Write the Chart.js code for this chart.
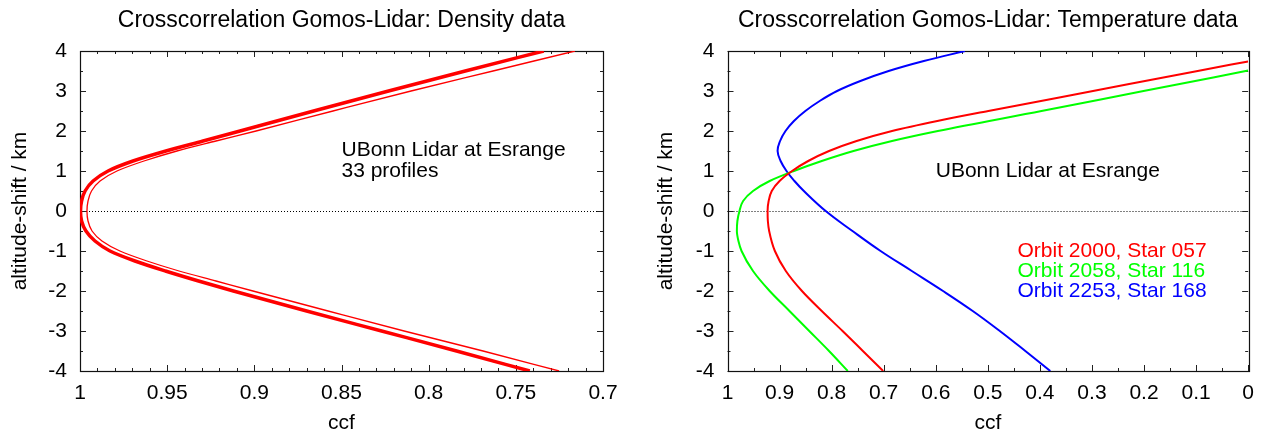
<!DOCTYPE html>
<html>
<head>
<meta charset="utf-8">
<script src="https://cdn.jsdelivr.net/npm/chart.js@4.4.0/dist/chart.umd.min.js"></script>
<style>
  html, body { margin: 0; padding: 0; background: #fff; }
  #wrap { position: relative; width: 1264px; height: 436px; }
  .pane { position: absolute; top: 0; width: 632px; height: 436px; }
</style>
</head>
<body>
<div id="wrap">
  <div class="pane" style="left:0"><canvas id="cDensity" width="632" height="436"></canvas></div>
  <div class="pane" style="left:632px"><canvas id="cTemp" width="632" height="436"></canvas></div>
</div>
<script>
// --- Dados: painel esquerdo (densidade) ---
const dzDensity    = [-4, -3.5, -3, -2.5, -2, -1.75, -1.5, -1.25, -1, -0.75, -0.5, -0.25, 0,
                      0.25, 0.5, 0.75, 1, 1.25, 1.5, 1.75, 2, 2.5, 3, 3.5, 4];
const ccfBundle    = [0.742, 0.784, 0.827, 0.870, 0.912, 0.932, 0.951, 0.9685, 0.9828, 0.9914, 0.9966, 0.9991, 0.9997,
                      0.9991, 0.9971, 0.9925, 0.9839, 0.9696, 0.9507, 0.9294, 0.9082, 0.866, 0.823, 0.779, 0.734];
const ccfOutlier   = [0.7252, 0.7688, 0.8141, 0.8577, 0.9008, 0.922, 0.9432, 0.9616, 0.9771, 0.9874, 0.9931, 0.9954, 0.996,
                      0.9954, 0.9934, 0.9885, 0.9788, 0.9633, 0.9444, 0.922, 0.899, 0.8549, 0.8101, 0.7631, 0.7161];

// --- Dados: painel direito (temperatura) ---
const dzOrbit2000  = [-4, -3.5, -3, -2.5, -2, -1.5, -1, -0.5, -0.25, 0, 0.25, 0.5, 0.75, 1, 1.25, 1.5, 1.75, 2, 2.25, 2.5, 3, 3.5, 3.74];
const ccfOrbit2000 = [0.701, 0.740, 0.779, 0.819, 0.857, 0.888, 0.909, 0.920, 0.9225, 0.923, 0.921, 0.915, 0.900, 0.876, 0.845, 0.805, 0.752, 0.684, 0.597, 0.499, 0.298, 0.097, 0.0];
const dzOrbit2058  = [-4, -3.5, -3, -2.5, -2, -1.5, -1, -0.75, -0.5, -0.25, 0, 0.25, 0.5, 0.75, 1, 1.25, 1.5, 1.75, 2, 2.5, 3, 3.51];
const ccfOrbit2058 = [0.769, 0.805, 0.843, 0.881, 0.919, 0.951, 0.973, 0.979, 0.982, 0.981, 0.977, 0.970, 0.951, 0.919, 0.8724, 0.819, 0.758, 0.684, 0.596, 0.397, 0.201, 0.0];
const dzOrbit2253  = [-4, -3.5, -3, -2.5, -2, -1.5, -1, -0.5, 0, 0.5, 0.75, 1, 1.25, 1.5, 1.75, 2, 2.25, 2.5, 2.75, 3, 3.25, 3.5, 3.75, 4];
const ccfOrbit2253 = [0.380, 0.428, 0.477, 0.529, 0.586, 0.646, 0.706, 0.760, 0.8114, 0.8533, 0.8714, 0.8867, 0.898, 0.9038, 0.899, 0.8886, 0.8724, 0.8505, 0.8229, 0.7895, 0.7448, 0.6905, 0.6229, 0.544];

// --- Eixos ---
const yTicks        = [-4, -3, -2, -1, 0, 1, 2, 3, 4];
const xTicksDensity = [1, 0.95, 0.9, 0.85, 0.8, 0.75, 0.7];
const xTicksTemp    = [1, 0.9, 0.8, 0.7, 0.6, 0.5, 0.4, 0.3, 0.2, 0.1, 0];

// --- Textos ---
const titleDensity = 'Crosscorrelation Gomos-Lidar: Density data';
const titleTemp    = 'Crosscorrelation Gomos-Lidar: Temperature data';
const notesDensity = [
  { text: 'UBonn Lidar at Esrange', x: 0.85, y: 1.52, color: '#000' },
  { text: '33 profiles',            x: 0.85, y: 1.0,  color: '#000' }
];
const notesTemp = [
  { text: 'UBonn Lidar at Esrange', x: 0.6,   y: 1.0,  color: '#000' },
  { text: 'Orbit 2000, Star 057',   x: 0.443, y: -1.0, color: '#ff0000' },
  { text: 'Orbit 2058, Star 116',   x: 0.443, y: -1.5, color: '#00ff00' },
  { text: 'Orbit 2253, Star 168',   x: 0.443, y: -2.0, color: '#0000ff' }
];

const FONT = '"Liberation Sans", Arial, Helvetica, sans-serif';
const FS = 21;       // textos gerais
const FS_TITLE = 23; // titulo do painel

function pts(xs, ys) {
  return ys.map((y, i) => ({ x: xs[i], y }));
}

function fmt(v) {
  return String(Math.round(v * 100) / 100);
}

// Moldura estilo gnuplot: borda, ticks para dentro, linha pontilhada em y=0, textos
function gnuplotPlugin(title, notes, minorStep) {
  return {
    id: 'gnuplotFrame',
    beforeDatasetsDraw(chart) {
      const { ctx, chartArea: a, scales: { x, y } } = chart;
      ctx.save();
      // linha pontilhada no zero
      ctx.strokeStyle = '#000';
      ctx.lineWidth = 1;
      ctx.setLineDash([1, 2]);
      const y0 = Math.round(y.getPixelForValue(0)) + 0.5;
      ctx.beginPath();
      ctx.moveTo(a.left, y0);
      ctx.lineTo(a.right, y0);
      ctx.stroke();
      ctx.setLineDash([]);

      // ticks para dentro nos quatro lados
      ctx.strokeStyle = '#222';
      ctx.lineWidth = 1;
      ctx.beginPath();
      const nX = Math.round((x.max - x.min) / minorStep);
      for (let i = 0; i <= nX; i++) {
        const v = x.min + i * minorStep;
        const major = x.ticks.some(t => Math.abs(t.value - v) < 1e-6);
        const len = major ? 6 : 3;
        const px = Math.round(x.getPixelForValue(v)) + 0.5;
        ctx.moveTo(px, a.bottom); ctx.lineTo(px, a.bottom - len);
        ctx.moveTo(px, a.top);    ctx.lineTo(px, a.top + len);
      }
      for (let v = -4; v <= 4; v += 0.5) {
        const len = Number.isInteger(v) ? 6 : 3;
        const py = Math.round(y.getPixelForValue(v)) + 0.5;
        ctx.moveTo(a.left, py);  ctx.lineTo(a.left + len, py);
        ctx.moveTo(a.right, py); ctx.lineTo(a.right - len, py);
      }
      ctx.stroke();

      // borda
      ctx.lineWidth = 1.2;
      ctx.strokeStyle = '#111';
      ctx.strokeRect(Math.round(a.left) + 0.5, Math.round(a.top) + 0.5,
                     Math.round(a.right - a.left), Math.round(a.bottom - a.top));
      ctx.restore();
    },
    afterDraw(chart) {
      const { ctx, chartArea: a, scales: { x, y } } = chart;
      ctx.save();
      ctx.font = `${FS_TITLE}px ${FONT}`;
      ctx.fillStyle = '#000';
      ctx.textAlign = 'center';
      ctx.textBaseline = 'alphabetic';
      ctx.fillText(title, (a.left + a.right) / 2, 27);
      ctx.font = `${FS}px ${FONT}`;
      ctx.textAlign = 'left';
      ctx.textBaseline = 'middle';
      notes.forEach(n => {
        ctx.fillStyle = n.color;
        ctx.fillText(n.text, x.getPixelForValue(n.x), y.getPixelForValue(n.y));
      });
      ctx.restore();
    }
  };
}

function makePanel(canvasId, cfg) {
  const ctx = document.getElementById(canvasId).getContext('2d');
  return new Chart(ctx, {
    type: 'line',
    data: { datasets: cfg.datasets },
    options: {
      indexAxis: 'y',   // curvas sao funcao da altitude -> interpolacao ao longo de y
      responsive: false,
      animation: false,
      events: [],
      layout: { padding: { left: 0, top: 51, right: cfg.padRight, bottom: 0 } },
      plugins: { legend: { display: false }, tooltip: { enabled: false }, title: { display: false } },
      elements: { point: { radius: 0 } },
      scales: {
        x: {
          type: 'linear', position: 'bottom', reverse: true, min: cfg.xMin, max: 1,
          afterBuildTicks: s => { s.ticks = cfg.xTicks.map(v => ({ value: v })); },
          afterFit: s => { s.height = 65; },
          grid: { display: false, drawTicks: false },
          border: { display: false },
          ticks: { autoSkip: false, maxRotation: 0, padding: 10, color: '#000',
                   font: { family: FONT, size: FS }, callback: v => fmt(v) },
          title: { display: true, text: 'ccf', color: '#000', padding: { top: 0, bottom: 0 },
                   font: { family: FONT, size: FS } }
        },
        y: {
          type: 'linear', position: 'left', min: -4, max: 4,
          afterBuildTicks: s => { s.ticks = yTicks.map(v => ({ value: v })); },
          afterFit: s => { s.width = cfg.yWidth; },
          grid: { display: false, drawTicks: false },
          border: { display: false },
          ticks: { autoSkip: false, padding: 13, color: '#000',
                   font: { family: FONT, size: FS }, callback: v => fmt(v) },
          title: { display: true, text: 'altitude-shift / km', color: '#000',
                   padding: { top: cfg.yTitlePad, bottom: 0 },
                   font: { family: FONT, size: FS } }
        }
      }
    },
    plugins: [gnuplotPlugin(cfg.title, cfg.notes, cfg.minorStep)]
  });
}

const line = (data, color, width) => ({
  data, borderColor: color, borderWidth: width, backgroundColor: color,
  cubicInterpolationMode: 'monotone', pointRadius: 0, fill: false
});

// curva azul: bezier simples fica mais suave no vertice
const smoothLine = (data, color, width) => ({
  data, borderColor: color, borderWidth: width, backgroundColor: color,
  tension: 0.4, pointRadius: 0, fill: false
});

makePanel('cDensity', {
  title: titleDensity, notes: notesDensity,
  xMin: 0.7, xTicks: xTicksDensity, minorStep: 0.01,
  yWidth: 80, yTitlePad: 8, padRight: 29,
  datasets: [
    line(pts(ccfOutlier, dzDensity), '#ff0000', 1.3),
    line(pts(ccfBundle, dzDensity), '#ff0000', 3.5)
  ]
});

makePanel('cTemp', {
  title: titleTemp, notes: notesTemp,
  xMin: 0, xTicks: xTicksTemp, minorStep: 0.05,
  yWidth: 95.5, yTitlePad: 22, padRight: 12,
  datasets: [
    line(pts(ccfOrbit2000, dzOrbit2000), '#ff0000', 2),
    line(pts(ccfOrbit2058, dzOrbit2058), '#00ff00', 2),
    smoothLine(pts(ccfOrbit2253, dzOrbit2253), '#0000ff', 2)
  ]
});
</script>
</body>
</html>
